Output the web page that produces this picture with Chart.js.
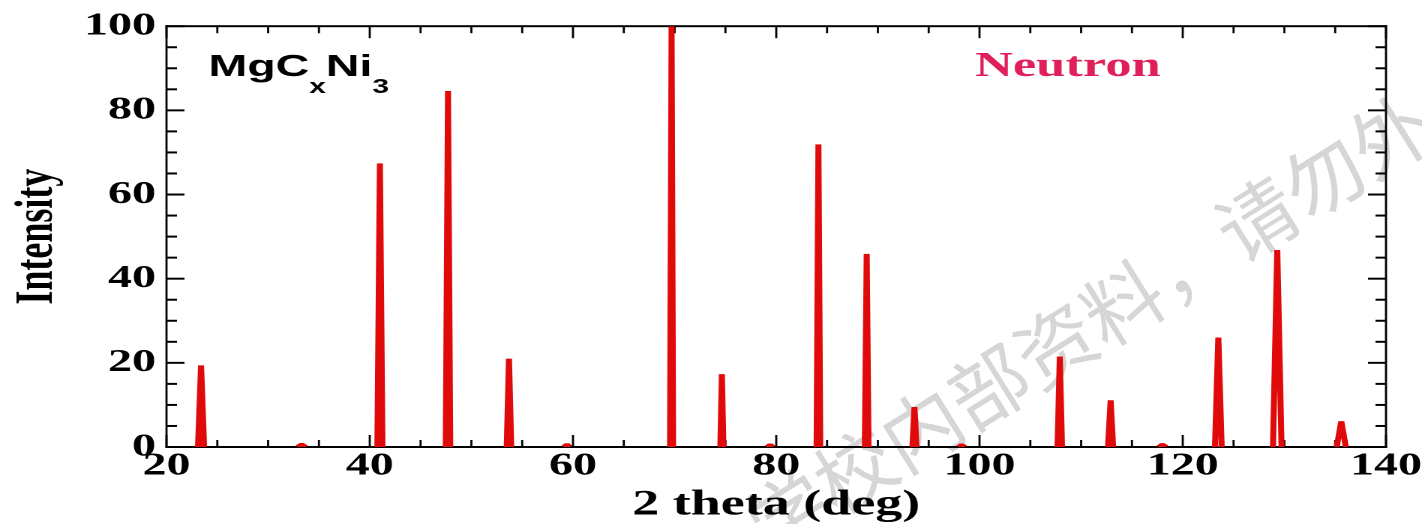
<!DOCTYPE html>
<html>
<head>
<meta charset="utf-8">
<script src="https://cdn.jsdelivr.net/npm/chart.js@4.4.1/dist/chart.umd.min.js"></script>
<style>
  html, body { margin: 0; padding: 0; background: #fff; overflow: hidden; }
  body { width: 1422px; height: 524px; position: relative; }
  /* faint diagonal watermark behind the chart */
  .watermark {
    position: absolute; left: 752px; top: 490px;
    font-family: "Noto Sans CJK SC", sans-serif; font-weight: 400;
    font-size: 79px; line-height: 79px; color: #d6d6d6;
    white-space: nowrap; transform-origin: 0 50%; transform: rotate(-32deg);
    z-index: 0;
  }
  /* the original figure is stretched sideways, so the canvas is too */
  .stretch {
    position: absolute; left: 0; top: 0; width: 948px; height: 524px;
    transform-origin: 0 0; transform: scaleX(1.5); z-index: 1;
  }
</style>
</head>
<body>
<div class="watermark">学校内部资料，请勿外传</div>
<div class="stretch"><canvas id="xrdChart"></canvas></div>
<script>
const xTicks = [20, 40, 60, 80, 100, 120, 140];
const yTicks = [0, 20, 40, 60, 80, 100];
const minorStep = 5;

// peaks: left foot, apex, right foot (2 theta, deg) and apex height
const peakStart  = [23.1, 32.9, 40.75, 47.48, 53.48, 59.1, 69.55, 74.5, 79.1, 83.97, 88.72, 93.4, 97.95, 107.68, 112.65, 117.65, 123.17, 128.88, 135.15];
const peakCenter = [23.4, 33.3, 41.0, 47.7, 53.7, 59.4, 69.7, 74.65, 79.4, 84.15, 88.9, 93.6, 98.25, 107.9, 112.9, 118.0, 123.5, 129.3, 135.6];
const peakEnd    = [23.7, 33.7, 41.25, 47.92, 53.92, 59.7, 69.85, 74.8, 79.7, 84.33, 89.08, 93.8, 98.55, 108.12, 113.15, 118.35, 123.83, 129.72, 136.05];
const peakHeight = [19.4, 0.6, 67.4, 84.6, 21.0, 0.6, 100, 17.3, 0.5, 71.9, 45.9, 9.5, 0.5, 21.5, 11.1, 0.6, 26.0, 46.8, 6.1];

const points = [];
peakCenter.forEach((c, i) => {
  points.push({ x: peakStart[i], y: 0 }, { x: c, y: peakHeight[i] }, { x: peakEnd[i], y: 0 }, { x: peakEnd[i], y: null });
});

const serif = "'Liberation Serif', 'Times New Roman', serif";
const sans = "'Liberation Sans', Arial, sans-serif";

// box frame with inward ticks on all four sides
const framePlugin = {
  id: 'frame',
  beforeDatasetsDraw(chart) {
    const { ctx, chartArea: a, scales: { x, y } } = chart;
    const vw = 1.4, hw = 2;
    ctx.save();
    ctx.fillStyle = '#000';
    ctx.fillRect(a.left - vw / 2, a.top - hw / 2, a.width + vw, hw);
    ctx.fillRect(a.left - vw / 2, a.bottom - hw / 2, a.width + vw, hw);
    ctx.fillRect(a.left - vw / 2, a.top - hw / 2, vw, a.height + hw);
    ctx.fillRect(a.right - vw / 2, a.top - hw / 2, vw, a.height + hw);
    for (let v = x.min; v <= x.max; v += minorStep) {
      const px = x.getPixelForValue(v);
      const len = xTicks.includes(v) ? 12 : 7;
      ctx.fillRect(px - vw / 2, a.bottom - len, vw, len);
      ctx.fillRect(px - vw / 2, a.top, vw, len);
    }
    for (let v = y.min; v <= y.max; v += minorStep) {
      const py = y.getPixelForValue(v);
      const len = yTicks.includes(v) ? 12 : 7;
      ctx.fillRect(a.left, py - hw / 2, len, hw);
      ctx.fillRect(a.right - len, py - hw / 2, len, hw);
    }
    ctx.restore();
  }
};

// in-plot labels: sample formula and probe
const labelPlugin = {
  id: 'labels',
  afterDatasetsDraw(chart) {
    const { ctx } = chart;
    ctx.save();
    ctx.textBaseline = 'alphabetic';
    ctx.textAlign = 'left';
    ctx.fillStyle = '#000';
    const parts = [['MgC', false], ['x', true], ['Ni', false], ['3', true]];
    let cx = 139;
    parts.forEach(([t, sub]) => {
      ctx.font = sub ? `bold 20px ${sans}` : `bold 31px ${sans}`;
      ctx.fillText(t, cx, sub ? 93 : 76);
      cx += ctx.measureText(t).width;
    });
    ctx.font = `bold 35px ${serif}`;
    ctx.fillStyle = '#e0205a';
    ctx.fillText('Neutron', 650, 76);
    ctx.restore();
  }
};

new Chart(document.getElementById('xrdChart'), {
  type: 'line',
  data: {
    datasets: [{
      data: points,
      borderColor: '#e00a0a',
      borderWidth: 4,
      borderJoinStyle: 'bevel',
      pointRadius: 0,
      tension: 0,
      fill: false
    }]
  },
  options: {
    responsive: true,
    maintainAspectRatio: false,
    animation: false,
    devicePixelRatio: 2,
    layout: { padding: { top: 24, right: 24, left: 0, bottom: 0 } },
    plugins: { legend: { display: false }, tooltip: { enabled: false } },
    scales: {
      x: {
        type: 'linear', min: 20, max: 140,
        afterBuildTicks: s => { s.ticks = xTicks.map(v => ({ value: v })); },
        afterFit: s => { s.height = 77; },
        grid: { display: false, drawTicks: false },
        border: { display: false },
        ticks: { color: '#000', font: { family: serif, weight: 'bold', size: 32 }, padding: 0, maxRotation: 0, autoSkip: false },
        title: { display: true, text: '2 theta (deg)', color: '#000', font: { family: serif, weight: 'bold', size: 36, lineHeight: 1 }, padding: { top: 0, bottom: 1 } }
      },
      y: {
        type: 'linear', min: 0, max: 100,
        afterBuildTicks: s => { s.ticks = yTicks.map(v => ({ value: v })); },
        afterFit: s => { s.width = 111; },
        grid: { display: false, drawTicks: false },
        border: { display: false },
        ticks: { color: '#000', font: { family: serif, weight: 'bold', size: 32 }, padding: 7, autoSkip: false },
        title: { display: true, text: 'Intensity', color: '#000', font: { family: serif, weight: 'bold', size: 36, lineHeight: 1 }, padding: { top: 7, bottom: 0 } }
      }
    }
  },
  plugins: [framePlugin, labelPlugin]
});
</script>
</body>
</html>
